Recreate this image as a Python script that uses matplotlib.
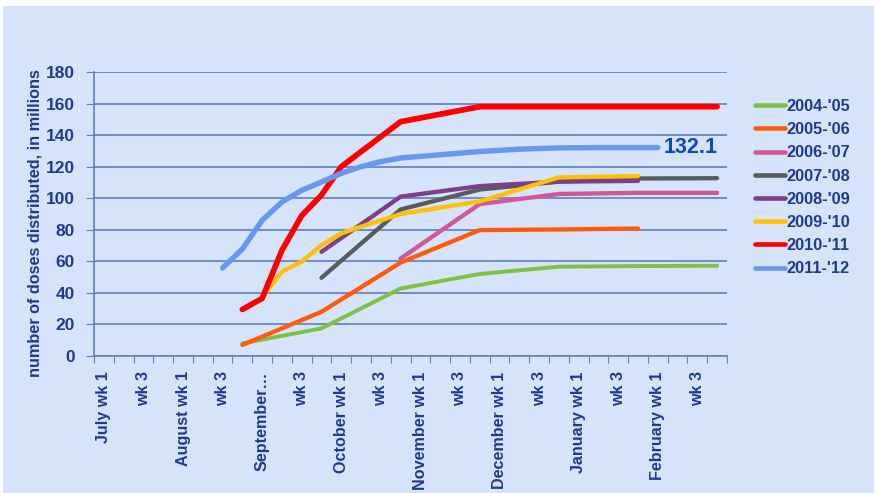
import matplotlib
matplotlib.use("Agg")
import matplotlib.pyplot as plt
from matplotlib.patches import Rectangle

# ---------------- data ----------------
months = ["July", "August", "September", "October", "November", "December", "January", "February"]
weeks = [f"{m} wk {w}" for m in months for w in (1, 2, 3, 4)]
tick_labels = ["July wk 1", "", "wk 3", "", "August wk 1", "", "wk 3", "",
               "September…", "", "wk 3", "", "October wk 1", "", "wk 3", "",
               "November wk 1", "", "wk 3", "", "December wk 1", "", "wk 3", "",
               "January wk 1", "", "wk 3", "", "February wk 1", "", "wk 3", ""]

series_names = ["2004-'05", "2005-'06", "2006-'07", "2007-'08",
                "2008-'09", "2009-'10", "2010-'11", "2011-'12"]

w_0405 = ["August wk 4", "September wk 4", "October wk 4", "November wk 4",
          "December wk 4", "January wk 4", "February wk 4"]
v_0405 = [8, 17.5, 42.8, 52, 56.6, 57.0, 57.2]

w_0506 = ["August wk 4", "September wk 4", "October wk 4", "November wk 4",
          "December wk 4", "January wk 4"]
v_0506 = [7, 28, 59.2, 79.8, 80.2, 80.8]

w_0607 = ["October wk 4", "November wk 4", "December wk 4", "January wk 4", "February wk 4"]
v_0607 = [61.8, 96.3, 102.7, 103.4, 103.4]

w_0708 = ["September wk 4", "October wk 4", "November wk 4", "December wk 4",
          "January wk 4", "February wk 4"]
v_0708 = [49.6, 92.9, 105.5, 110.5, 112.5, 112.7]

w_0809 = ["September wk 4", "October wk 4", "November wk 4", "December wk 4", "January wk 4"]
v_0809 = [66, 101, 107.7, 110.5, 111]

w_0910 = ["September wk 1", "September wk 2", "September wk 3", "September wk 4",
          "October wk 1", "October wk 2", "October wk 3", "October wk 4",
          "November wk 4", "December wk 4", "January wk 4"]
v_0910 = [37, 53.5, 59.8, 70.3, 77.7, 82, 86, 90, 98, 113.2, 114]

w_1011 = ["August wk 4", "September wk 1", "September wk 2", "September wk 3",
          "September wk 4", "October wk 1", "October wk 4", "November wk 4", "February wk 4"]
v_1011 = [29.5, 36.5, 67, 89, 102, 120, 148.5, 158, 158]

w_1112 = ["August wk 3", "August wk 4", "September wk 1", "September wk 2",
          "September wk 3", "September wk 4", "October wk 1", "October wk 2",
          "October wk 3", "October wk 4", "November wk 4", "December wk 2",
          "December wk 4", "January wk 2", "February wk 1"]
v_1112 = [55.8, 67.8, 86, 97.6, 105, 110.3, 115.8, 120, 123.2, 125.5,
          129.6, 131.1, 131.9, 132.1, 132.1]

series_weeks = [w_0405, w_0506, w_0607, w_0708, w_0809, w_0910, w_1011, w_1112]
series_vals = [v_0405, v_0506, v_0607, v_0708, v_0809, v_0910, v_1011, v_1112]

colors = ["#7DC242", "#FF5A0A", "#D0579A", "#585C5E",
          "#7B3F8C", "#FFC000", "#FF0000", "#6699EE"]
widths = [2.8, 3.1, 3.1, 3.1, 3.1, 3.1, 4.1, 3.9]

end_label = "132.1"

# ---------------- style ----------------
txt = "#203A8C"
grid_c = "#5F7FC2"
bg = "#D5E3FB"
plt.rcParams['font.family'] = ['Liberation Sans', 'DejaVu Sans']

fig = plt.figure(figsize=(8.77, 4.93), dpi=100)
fig.patch.set_facecolor("white")
fig.patches.append(Rectangle((3 / 877, 0), 871 / 877, 1 - 6 / 493,
                             transform=fig.transFigure, facecolor=bg,
                             edgecolor="none", zorder=-10))

ax = fig.add_axes([94 / 877, 1 - 356 / 493, 633 / 877, 284 / 493])
ax.set_facecolor("none")

for name, wk, vals, c, lw in zip(series_names, series_weeks, series_vals, colors, widths):
    xs = [weeks.index(w) for w in wk]
    ax.plot(xs, vals, color=c, lw=lw, label=name,
            solid_capstyle="round", solid_joinstyle="round")

# data label on last 2011-'12 point
last_x = weeks.index(w_1112[-1])
ax.annotate(end_label, (last_x, v_1112[-1]), xytext=(4, 0), textcoords="offset points",
            ha="left", va="center", fontsize=15.5, fontweight="bold", color="#0D47C1")

ax.set_xlim(-0.5, len(weeks) - 0.5)
ax.set_ylim(0, 180)
ax.set_yticks(range(0, 181, 20))
ax.yaxis.grid(True, color=grid_c, lw=1.2)
ax.set_axisbelow(True)

# category ticks between categories, labels at centers
ax.set_xticks([i - 0.5 for i in range(len(weeks) + 1)])
ax.set_xticklabels([])
ax.set_xticks(range(len(weeks)), minor=True)
ax.set_xticklabels(tick_labels, minor=True, rotation=90, va="top", ha="center",
                   fontsize=11.6, fontweight="bold", color=txt)
ax.tick_params(axis="x", which="minor", length=0, pad=11)
ax.tick_params(axis="x", which="major", length=5, color=grid_c, direction="out")
ax.tick_params(axis="y", length=6, color=grid_c, pad=8, labelsize=12.5, labelcolor=txt)
for lab in ax.get_yticklabels():
    lab.set_fontweight("bold")

for s in ["top", "right"]:
    ax.spines[s].set_visible(False)
ax.spines["left"].set_color(grid_c)
ax.spines["bottom"].set_color(grid_c)
ax.spines["left"].set_linewidth(1.2)
ax.spines["bottom"].set_linewidth(1.2)

ax.set_ylabel("number of doses distributed, in millions", fontsize=11.7,
              fontweight="bold", color=txt, va="center")
ax.yaxis.set_label_coords(-0.093, 0.468)

leg = ax.legend(loc="upper left", bbox_to_anchor=(755 / 877, 1 - 99 / 493),
                bbox_transform=fig.transFigure, frameon=False, borderpad=0,
                borderaxespad=0, handlelength=1.8, handletextpad=0.1,
                labelspacing=0.5, prop={"size": 11.8, "weight": "bold"})
for t in leg.get_texts():
    t.set_color(txt)
for h in leg.get_lines():
    h.set_linewidth(3.3)

fig.savefig("out.png", dpi=100, facecolor=fig.get_facecolor())
